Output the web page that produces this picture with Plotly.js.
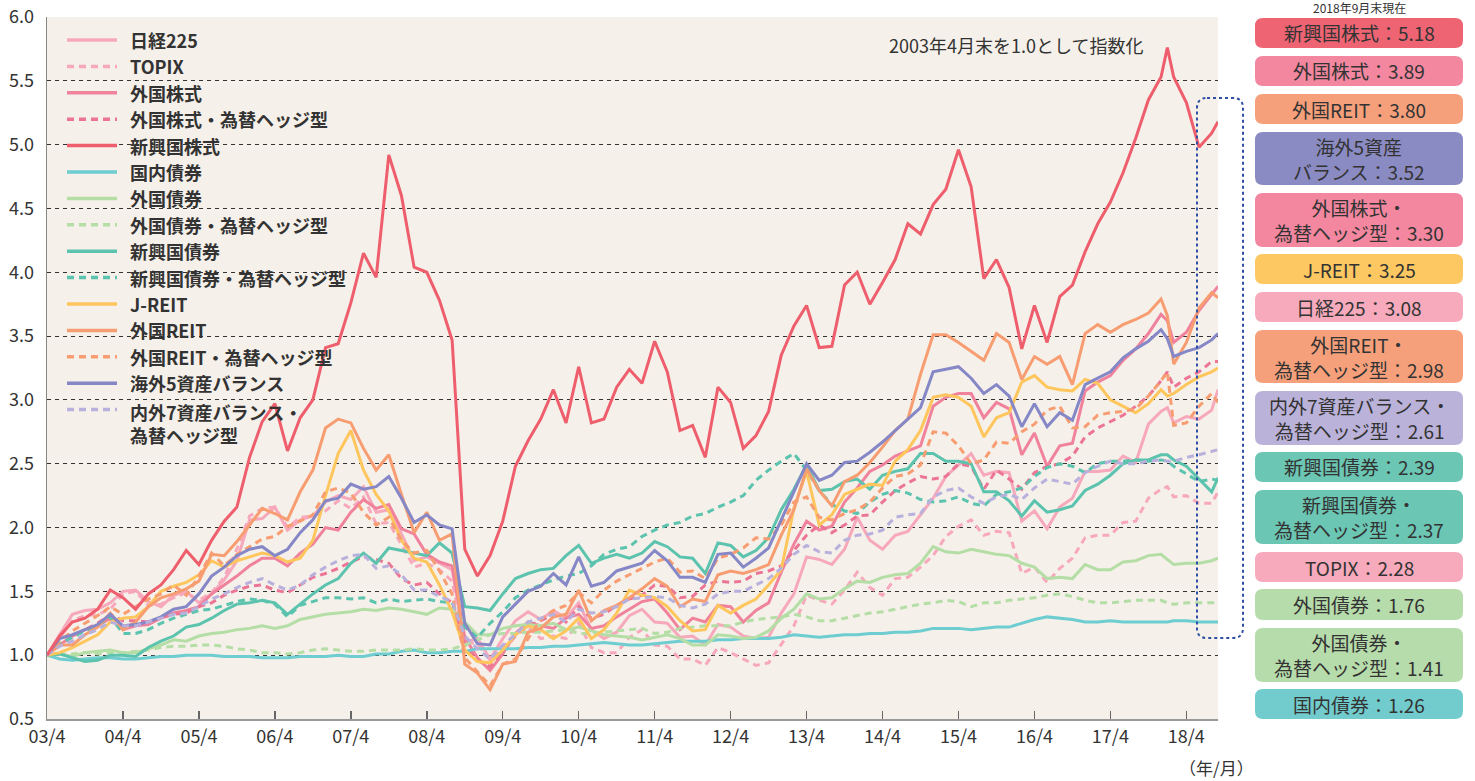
<!DOCTYPE html>
<html>
<head>
<meta charset="utf-8">
<script src="https://cdn.plot.ly/plotly-3.0.1.min.js"></script>
<style>
html,body{margin:0;padding:0;background:#fff;}
#chart{width:1475px;height:781px;}
</style>
</head>
<body>
<div id="chart"></div>
<script>
// ---- Data (index, 2003/4 end = 1.0) ----
// month offsets from 2003/4
const months = [0,2,4,6,8,10,12,14,16,18,
20,22,24,26,28,30,32,34,36,38,
40,42,44,46,48,50,52,54,56,58,
60,62,64,66,68,70,72,74,76,78,
80,82,84,86,88,90,92,94,96,98,
100,102,104,106,108,110,112,114,116,118,
120,122,124,126,128,130,132,134,136,138,
140,142,144,146,148,150,152,154,156,158,
160,162,164,166,168,170,172,174,176,
177,178,180,182,184,185];

const tickMonths = [0,12,24,36,48,60,72,84,96,108,120,132,144,156,168,180];
const tickLabels = ['03/4','04/4','05/4','06/4','07/4','08/4','09/4','10/4','11/4','12/4','13/4','14/4','15/4','16/4','17/4','18/4'];

const nikkei225 = [1.00,1.16,1.32,1.35,1.36,1.41,1.50,1.51,1.42,1.38,
1.47,1.50,1.41,1.48,1.59,1.74,2.06,2.07,2.16,1.98,
2.06,2.09,2.20,2.25,2.22,2.32,2.12,2.14,1.95,1.74,
1.77,1.72,1.67,1.10,1.13,0.97,1.13,1.27,1.34,1.28,
1.35,1.29,1.41,1.20,1.13,1.18,1.31,1.36,1.26,1.25,
1.14,1.15,1.08,1.24,1.22,1.15,1.13,1.14,1.33,1.48,
1.77,1.75,1.71,1.83,2.08,1.90,1.83,1.94,1.97,2.10,
2.23,2.40,2.49,2.58,2.41,2.44,2.43,2.05,2.13,1.99,
2.16,2.23,2.44,2.44,2.45,2.56,2.51,2.81,2.91,
2.94,2.82,2.87,2.85,2.92,3.08];

const topix = [1.00,1.14,1.27,1.31,1.32,1.36,1.48,1.50,1.39,1.40,
1.45,1.49,1.43,1.49,1.61,1.83,2.09,2.15,2.16,2.00,
2.08,2.09,2.13,2.21,2.15,2.24,2.03,2.04,1.86,1.69,
1.72,1.67,1.58,1.10,1.09,0.96,1.06,1.17,1.22,1.13,
1.15,1.13,1.25,1.06,1.02,1.02,1.14,1.20,1.08,1.07,
0.97,0.97,0.92,1.06,1.02,0.97,0.92,0.94,1.09,1.23,
1.47,1.43,1.40,1.51,1.65,1.53,1.47,1.60,1.61,1.69,
1.78,1.93,2.01,2.06,1.94,1.97,1.96,1.64,1.69,1.57,
1.68,1.76,1.92,1.94,1.94,2.04,2.05,2.23,2.30,
2.32,2.24,2.25,2.19,2.19,2.28];

const foreignEquity = [1.00,1.08,1.15,1.20,1.23,1.29,1.20,1.23,1.24,1.29,
1.33,1.35,1.38,1.48,1.55,1.62,1.70,1.76,1.76,1.70,
1.80,1.87,2.00,1.98,2.12,2.22,2.15,2.18,1.99,1.95,
1.79,1.73,1.70,1.14,0.98,0.88,1.01,1.17,1.26,1.23,
1.21,1.29,1.32,1.21,1.23,1.30,1.36,1.42,1.44,1.33,
1.20,1.29,1.26,1.39,1.38,1.26,1.35,1.41,1.65,1.87,
2.05,1.98,2.01,2.20,2.31,2.44,2.49,2.56,2.60,2.64,
2.95,3.02,3.05,3.05,2.86,2.98,2.93,2.57,2.74,2.48,
2.64,2.66,3.07,3.14,3.19,3.31,3.40,3.52,3.67,
3.62,3.45,3.53,3.70,3.83,3.89];

const foreignEquityH = [1.00,1.09,1.14,1.20,1.25,1.32,1.27,1.27,1.26,1.29,
1.32,1.33,1.38,1.41,1.47,1.51,1.54,1.55,1.51,1.49,
1.55,1.61,1.64,1.68,1.73,1.77,1.75,1.72,1.60,1.55,
1.57,1.48,1.41,1.08,0.96,0.91,1.04,1.15,1.23,1.27,
1.32,1.26,1.38,1.29,1.32,1.39,1.44,1.47,1.55,1.54,
1.45,1.46,1.55,1.58,1.57,1.58,1.64,1.66,1.70,1.82,
1.94,2.02,1.96,2.02,2.09,2.10,2.20,2.29,2.35,2.40,
2.38,2.40,2.50,2.48,2.30,2.45,2.38,2.30,2.43,2.48,
2.50,2.56,2.71,2.78,2.83,2.88,2.95,3.03,3.15,
3.22,3.10,3.17,3.22,3.30,3.30];

const emergingEquity = [1.00,1.15,1.26,1.29,1.36,1.51,1.45,1.36,1.48,1.55,
1.67,1.82,1.71,1.90,2.05,2.16,2.55,2.83,2.97,2.60,
2.86,3.00,3.41,3.44,3.76,4.15,3.96,4.92,4.60,4.04,
4.00,3.78,3.47,1.83,1.62,1.78,2.05,2.48,2.68,2.85,
3.08,2.82,3.26,2.82,2.85,3.10,3.24,3.13,3.46,3.22,
2.76,2.80,2.55,3.10,2.98,2.62,2.72,2.91,3.35,3.58,
3.74,3.41,3.42,3.90,4.00,3.75,3.92,4.10,4.38,4.30,
4.53,4.65,4.96,4.67,3.95,4.10,3.88,3.40,3.74,3.45,
3.81,3.90,4.16,4.38,4.55,4.78,5.05,5.35,5.53,
5.76,5.53,5.33,4.98,5.09,5.18];

const domesticBond = [1.00,0.97,0.96,0.97,0.98,0.98,0.97,0.97,0.98,0.99,
0.99,1.00,1.00,1.00,0.99,0.99,0.99,0.98,0.98,0.98,
0.99,0.99,0.99,1.00,0.99,0.99,1.01,1.01,1.03,1.04,
1.02,1.02,1.03,1.03,1.05,1.05,1.05,1.05,1.06,1.06,
1.07,1.07,1.08,1.09,1.10,1.09,1.08,1.08,1.09,1.10,
1.11,1.11,1.11,1.12,1.12,1.13,1.13,1.13,1.14,1.16,
1.15,1.14,1.15,1.16,1.16,1.17,1.17,1.18,1.18,1.19,
1.21,1.21,1.21,1.20,1.21,1.22,1.22,1.25,1.28,1.30,
1.29,1.28,1.26,1.26,1.27,1.26,1.26,1.26,1.26,
1.26,1.27,1.27,1.26,1.26,1.26];

const foreignBond = [1.00,1.01,0.99,1.02,1.03,1.04,1.02,1.02,1.05,1.08,
1.12,1.11,1.15,1.17,1.18,1.20,1.21,1.23,1.21,1.23,
1.28,1.30,1.32,1.33,1.34,1.36,1.35,1.37,1.36,1.34,
1.32,1.37,1.36,1.26,1.16,1.16,1.21,1.23,1.24,1.23,
1.25,1.20,1.22,1.19,1.16,1.15,1.14,1.12,1.14,1.16,
1.13,1.08,1.08,1.16,1.15,1.13,1.14,1.19,1.29,1.36,
1.48,1.44,1.45,1.52,1.58,1.57,1.61,1.63,1.64,1.72,
1.85,1.81,1.80,1.83,1.81,1.79,1.78,1.72,1.69,1.60,
1.61,1.60,1.71,1.67,1.67,1.73,1.74,1.78,1.79,
1.75,1.71,1.72,1.72,1.74,1.76];

const foreignBondH = [1.00,1.01,1.01,1.02,1.01,1.02,1.02,1.03,1.04,1.06,
1.07,1.07,1.08,1.08,1.07,1.05,1.04,1.02,1.02,1.01,
1.02,1.04,1.05,1.04,1.03,1.03,1.04,1.04,1.04,1.05,
1.04,1.04,1.05,1.08,1.12,1.16,1.17,1.17,1.18,1.18,
1.19,1.20,1.17,1.17,1.18,1.19,1.20,1.21,1.17,1.18,
1.21,1.22,1.23,1.23,1.23,1.26,1.28,1.29,1.30,1.32,
1.30,1.27,1.27,1.29,1.31,1.33,1.34,1.36,1.38,1.40,
1.41,1.43,1.42,1.38,1.41,1.41,1.43,1.44,1.45,1.47,
1.48,1.46,1.43,1.41,1.41,1.42,1.43,1.43,1.43,
1.41,1.40,1.41,1.41,1.41,1.41];

const emergingBond = [1.00,1.01,0.98,0.95,0.96,1.00,1.00,0.99,1.06,1.11,
1.15,1.22,1.24,1.29,1.35,1.40,1.41,1.43,1.41,1.32,
1.40,1.48,1.55,1.60,1.72,1.80,1.72,1.84,1.82,1.80,
1.78,1.88,1.80,1.38,1.37,1.35,1.48,1.60,1.64,1.67,
1.68,1.78,1.86,1.72,1.76,1.79,1.76,1.80,1.89,1.85,
1.77,1.76,1.64,1.88,1.86,1.77,1.82,1.92,2.14,2.30,
2.49,2.29,2.30,2.36,2.38,2.30,2.41,2.44,2.46,2.58,
2.58,2.52,2.52,2.50,2.28,2.28,2.21,2.09,2.21,2.12,
2.14,2.17,2.29,2.34,2.41,2.50,2.53,2.53,2.57,
2.57,2.53,2.48,2.38,2.28,2.39];

const emergingBondH = [1.00,1.09,1.14,1.19,1.23,1.30,1.17,1.17,1.20,1.25,
1.29,1.32,1.35,1.36,1.39,1.42,1.44,1.43,1.40,1.30,
1.39,1.42,1.45,1.45,1.44,1.45,1.41,1.44,1.42,1.43,
1.44,1.42,1.41,1.22,1.14,1.25,1.34,1.45,1.51,1.55,
1.59,1.62,1.64,1.70,1.79,1.83,1.85,1.93,1.98,2.02,
2.04,2.09,2.11,2.16,2.20,2.25,2.37,2.45,2.52,2.58,
2.45,2.29,2.18,2.13,2.11,2.20,2.26,2.29,2.27,2.22,
2.20,2.21,2.24,2.19,2.17,2.26,2.28,2.31,2.40,2.47,
2.50,2.48,2.43,2.50,2.52,2.52,2.53,2.52,2.53,
2.52,2.48,2.42,2.36,2.38,2.37];

const jReit = [1.00,1.02,1.06,1.11,1.16,1.26,1.29,1.30,1.38,1.50,
1.54,1.57,1.63,1.74,1.69,1.74,1.77,1.80,1.78,1.73,
1.76,1.90,2.25,2.58,2.76,2.45,2.26,2.13,1.90,1.76,
1.73,1.55,1.34,1.04,0.95,0.94,1.04,1.16,1.23,1.20,
1.13,1.19,1.29,1.13,1.20,1.33,1.51,1.47,1.45,1.38,
1.27,1.19,1.20,1.39,1.33,1.39,1.44,1.55,1.67,2.15,
2.44,2.02,2.10,2.26,2.30,2.34,2.33,2.52,2.61,2.76,
3.02,3.04,3.02,2.95,2.71,2.86,2.90,3.14,3.19,3.10,
3.08,3.07,3.16,3.13,3.00,2.95,2.90,2.97,3.08,
3.03,3.05,3.12,3.18,3.22,3.25];

const foreignReit = [1.00,1.08,1.08,1.16,1.22,1.33,1.20,1.26,1.38,1.45,
1.48,1.52,1.58,1.79,1.78,1.89,2.02,2.15,2.11,2.06,
2.28,2.45,2.78,2.85,2.82,2.62,2.45,2.57,2.26,1.96,
2.12,1.90,1.95,0.93,0.86,0.73,0.93,0.95,1.18,1.21,
1.30,1.32,1.51,1.27,1.35,1.39,1.45,1.52,1.60,1.54,
1.38,1.44,1.42,1.63,1.66,1.64,1.67,1.71,1.94,2.14,
2.46,2.29,2.17,2.36,2.41,2.51,2.63,2.76,2.85,3.20,
3.51,3.51,3.45,3.38,3.31,3.52,3.45,3.16,3.34,3.28,
3.34,3.12,3.52,3.59,3.53,3.59,3.63,3.68,3.79,
3.66,3.28,3.45,3.72,3.84,3.80];

const foreignReitH = [1.00,1.11,1.19,1.25,1.31,1.38,1.32,1.38,1.44,1.48,
1.55,1.47,1.62,1.80,1.70,1.79,1.85,1.91,1.93,2.01,
2.05,2.10,2.28,2.31,2.27,2.12,2.02,2.08,1.90,1.80,
1.82,1.66,1.48,0.98,0.87,0.76,0.93,0.97,1.13,1.28,
1.35,1.39,1.49,1.41,1.51,1.58,1.63,1.68,1.73,1.76,
1.65,1.66,1.60,1.76,1.79,1.84,1.92,1.91,2.02,2.20,
2.24,2.08,2.06,2.11,2.14,2.20,2.31,2.40,2.42,2.49,
2.75,2.74,2.64,2.50,2.53,2.67,2.66,2.75,2.81,2.92,
2.95,2.78,2.79,2.88,2.90,2.91,2.93,3.03,3.15,
3.22,2.80,2.82,2.95,3.05,2.98];

const balance5 = [1.00,1.13,1.16,1.20,1.24,1.32,1.23,1.24,1.26,1.30,
1.36,1.38,1.48,1.62,1.69,1.78,1.83,1.85,1.78,1.83,
1.96,2.06,2.21,2.23,2.34,2.30,2.32,2.40,2.23,2.04,
2.10,2.02,1.99,1.25,1.09,1.08,1.30,1.40,1.50,1.54,
1.64,1.55,1.77,1.54,1.57,1.66,1.69,1.72,1.82,1.74,
1.61,1.61,1.57,1.79,1.80,1.69,1.76,1.84,2.06,2.28,
2.50,2.37,2.41,2.51,2.52,2.59,2.67,2.76,2.85,2.94,
3.22,3.24,3.26,3.17,3.05,3.12,3.03,2.79,2.97,2.79,
2.90,2.84,3.12,3.17,3.22,3.33,3.40,3.46,3.55,
3.48,3.34,3.38,3.41,3.47,3.52];

const balance7H = [1.00,1.07,1.11,1.16,1.20,1.26,1.23,1.23,1.26,1.29,
1.32,1.33,1.38,1.44,1.48,1.53,1.57,1.60,1.55,1.51,
1.55,1.63,1.69,1.74,1.78,1.79,1.68,1.70,1.63,1.51,
1.51,1.46,1.42,1.15,1.05,0.97,1.08,1.16,1.26,1.29,
1.32,1.26,1.36,1.33,1.34,1.38,1.44,1.45,1.46,1.45,
1.39,1.37,1.40,1.48,1.50,1.50,1.55,1.60,1.68,1.79,
1.86,1.81,1.80,1.90,1.94,1.95,1.98,2.08,2.10,2.11,
2.24,2.29,2.31,2.24,2.19,2.24,2.26,2.22,2.31,2.38,
2.36,2.34,2.43,2.48,2.52,2.50,2.50,2.52,2.53,
2.52,2.52,2.55,2.57,2.60,2.61];

// Right-hand value boxes (2018年9月末現在)
const boxLabels = ['新興国株式','外国株式','外国REIT','海外5資産<br>バランス','外国株式・<br>為替ヘッジ型','J-REIT','日経225','外国REIT・<br>為替ヘッジ型','内外7資産バランス・<br>為替ヘッジ型','新興国債券','新興国債券・<br>為替ヘッジ型','TOPIX','外国債券','外国債券・<br>為替ヘッジ型','国内債券'];
const boxValues = ['5.18','3.89','3.80','3.52','3.30','3.25','3.08','2.98','2.61','2.39','2.37','2.28','1.76','1.41','1.26'];

// ---- Styling ----
const FONT = '"Noto Sans CJK JP", "Noto Sans", sans-serif';
const series = [
  {name:'日経225', y:nikkei225, color:'#f7a8bb', dash:'solid'},
  {name:'TOPIX', y:topix, color:'#f7a8bb', dash:'7px,5px'},
  {name:'外国株式', y:foreignEquity, color:'#f0829c', dash:'solid'},
  {name:'外国株式・為替ヘッジ型', y:foreignEquityH, color:'#ec7595', dash:'7px,5px'},
  {name:'新興国株式', y:emergingEquity, color:'#ee5e6d', dash:'solid'},
  {name:'国内債券', y:domesticBond, color:'#6dcdd0', dash:'solid'},
  {name:'外国債券', y:foreignBond, color:'#b4dea6', dash:'solid'},
  {name:'外国債券・為替ヘッジ型', y:foreignBondH, color:'#b4dea6', dash:'7px,5px'},
  {name:'新興国債券', y:emergingBond, color:'#5bc3ae', dash:'solid'},
  {name:'新興国債券・為替ヘッジ型', y:emergingBondH, color:'#5bc3ae', dash:'7px,5px'},
  {name:'J-REIT', y:jReit, color:'#fec65c', dash:'solid'},
  {name:'外国REIT', y:foreignReit, color:'#f79d71', dash:'solid'},
  {name:'外国REIT・為替ヘッジ型', y:foreignReitH, color:'#f79d71', dash:'7px,5px'},
  {name:'海外5資産バランス', y:balance5, color:'#8587c6', dash:'solid'},
  {name:'内外7資産バランス・<br>為替ヘッジ型', y:balance7H, color:'#b9b1dd', dash:'7px,5px'}
];
const boxColors = ['#ef6473','#f2879f','#f6a07b','#8b8bc3','#f2879f','#fdc862','#f6aabb','#f6a07b','#bbb2da','#6bc6b4','#6bc6b4','#f6aabb','#b7dcab','#b7dcab','#72cccd'];
const boxTop = [18,56,94,132,193,254,292,330,391,452,490,552,589,628,689];
const boxBot = [48,86,124,185,247,284,322,383,445,482,544,582,620,682,719];

// geometry helpers (page pixels -> paper)
const W=1475, H=781, ML=47, MR=257, MT=17, MB=62;
const PW=W-ML-MR, PH=H-MT-MB;
const px = x => (x-ML)/PW;
const py = y => (H-MB-y)/PH;
function roundRect(x0,y0,x1,y1,r){
  const a=px(x0), b=px(x1), t=py(y0), u=py(y1);
  const rx=r/PW, ry=r/PH;
  return `M${a+rx},${t} L${b-rx},${t} Q${b},${t} ${b},${t-ry} L${b},${u+ry} Q${b},${u} ${b-rx},${u} L${a+rx},${u} Q${a},${u} ${a},${u+ry} L${a},${t-ry} Q${a},${t} ${a+rx},${t} Z`;
}

const traces = series.map(s => ({
  type:'scatter', mode:'lines', x:months, y:s.y, name:s.name,
  line:{color:s.color, width:3, dash:s.dash}, showlegend:false, hoverinfo:'skip'
}));
// draw emerging equity on top
const emIdx = 4;
const ordered = traces.filter((t,i)=>i!==emIdx).concat([traces[emIdx]]);

const shapes = [];
const annotations = [];

// manual legend
series.forEach((s,i) => {
  const yy = 40 + i*26.4;
  shapes.push({type:'line', xref:'paper', yref:'paper', x0:px(67), x1:px(117), y0:py(yy), y1:py(yy),
    line:{color:s.color, width:3.5, dash:s.dash}});
  const multi = s.name.indexOf('<br>')>=0;
  annotations.push({xref:'paper', yref:'paper', x:px(128), y:multi?py(yy-13):py(yy), xanchor:'left',
    yanchor: multi?'top':'middle', align:'left', text:s.name, showarrow:false,
    font:{family:FONT, size:18, color:'#333', weight:'bold'}});
});

// right boxes
boxLabels.forEach((lab,i) => {
  shapes.push({type:'path', xref:'paper', yref:'paper', path:roundRect(1255,boxTop[i],1463,boxBot[i],8),
    fillcolor:boxColors[i], line:{width:0}, layer:'above'});
  annotations.push({xref:'paper', yref:'paper', x:px(1359), y:py((boxTop[i]+boxBot[i])/2),
    xanchor:'center', yanchor:'middle', align:'center', text:lab+'：'+boxValues[i], showarrow:false,
    font:{family:FONT, size:19, color:'#333'}});
});

// dotted highlight frame
shapes.push({type:'path', xref:'paper', yref:'paper', path:roundRect(1197,98,1243,638,10),
  line:{color:'#2f4fa5', width:2, dash:'dot'}, fillcolor:'rgba(0,0,0,0)', layer:'above'});

annotations.push({xref:'paper', yref:'paper', x:px(1016), y:py(45), xanchor:'center', yanchor:'middle',
  text:'2003年4月末を1.0として指数化', showarrow:false, font:{family:FONT, size:18, color:'#333'}});
annotations.push({xref:'paper', yref:'paper', x:px(1216), y:py(768), xanchor:'center', yanchor:'middle',
  text:'（年/月）', showarrow:false, font:{family:FONT, size:17, color:'#333'}});
annotations.push({xref:'paper', yref:'paper', x:px(1359), y:py(18.5), xanchor:'center', yanchor:'bottom',
  text:'2018年9月末現在', showarrow:false, font:{family:FONT, size:12, color:'#333'}});

const layout = {
  width:W, height:H,
  margin:{l:ML, r:MR, t:MT, b:MB, pad:0},
  paper_bgcolor:'#ffffff', plot_bgcolor:'#f5f0e9',
  font:{family:FONT, color:'#333'},
  showlegend:false,
  xaxis:{range:[0,185], tickvals:tickMonths, ticktext:tickLabels, showgrid:false, zeroline:false,
    ticks:'inside', ticklen:8, tickwidth:1.5, tickcolor:'#666', showline:true, linecolor:'#999', linewidth:2,
    tickfont:{family:FONT, size:18, color:'#333'}, fixedrange:true},
  yaxis:{range:[0.5,6.0], dtick:0.5, tick0:0.5, tickformat:'.1f', showgrid:true, gridcolor:'#333',
    griddash:'4px,4px', gridwidth:1, zeroline:false, showline:true, linecolor:'#888', linewidth:1.5,
    ticks:'', tickfont:{family:FONT, size:18, color:'#333'}, fixedrange:true, ticklabelstandoff:8},
  shapes:shapes, annotations:annotations
};

Plotly.newPlot('chart', ordered, layout, {staticPlot:true, displayModeBar:false});
</script>
</body>
</html>
